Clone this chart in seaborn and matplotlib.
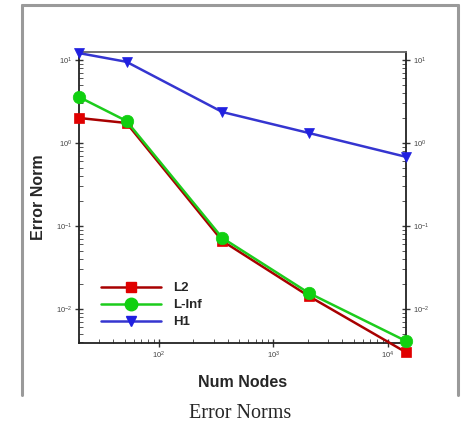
import matplotlib
matplotlib.use("Agg")
import matplotlib.pyplot as plt
import matplotlib.ticker as mticker
from matplotlib.lines import Line2D
import numpy as np
import pandas as pd
import seaborn as sns

# Mesh sizes and error norms for the convergence study
num_nodes = [20, 52, 357, 2030, 14400]
err_l2 = [2.0, 1.74, 0.066, 0.0143, 0.0030]
err_linf = [3.58, 1.84, 0.0717, 0.0156, 0.0041]
err_h1 = [12.1, 9.5, 2.36, 1.32, 0.68]
series_names = ["L2", "L-Inf", "H1"]
x_ticks = [1e2, 1e3, 1e4]
y_ticks = [1e-2, 1e-1, 1e0, 1e1]

df = pd.DataFrame({
    "Num Nodes": num_nodes * 3,
    "Error Norm": err_l2 + err_linf + err_h1,
    "Norm": [n for n in series_names for _ in num_nodes],
})

sns.set_style("white")
plt.rcParams["font.family"] = ["Liberation Sans", "DejaVu Sans"]

fig = plt.figure(figsize=(4.62, 4.29), dpi=100)
ax = fig.add_axes([0.171, 0.2005, 0.708, 0.6783])

styles = {
    "L2": dict(line="#a80000", face="#e00000", marker="s", ms=7),
    "L-Inf": dict(line="#1ccc1c", face="#10d010", marker="o", ms=9),
    "H1": dict(line="#3535d0", face="#2020e0", marker="v", ms=7.5),
}

for name in series_names:
    st = styles[name]
    sub = df[df["Norm"] == name]
    sns.lineplot(data=sub, x="Num Nodes", y="Error Norm", ax=ax,
                 color=st["line"], linewidth=1.8, marker=st["marker"],
                 markersize=st["ms"], markerfacecolor=st["face"],
                 markeredgecolor=st["face"], markeredgewidth=0.5,
                 label=name, clip_on=False, zorder=3, legend=False)

ax.set_xscale("log")
ax.set_yscale("log")
ax.set_xlim(num_nodes[0], num_nodes[-1])
ax.set_ylim(10 ** -2.41, 10 ** 1.096)

ax.xaxis.set_major_locator(mticker.FixedLocator(x_ticks))
ax.yaxis.set_major_locator(mticker.FixedLocator(y_ticks))
ax.xaxis.set_minor_locator(mticker.LogLocator(base=10, subs=np.arange(2, 10)))
ax.yaxis.set_minor_locator(mticker.LogLocator(base=10, subs=np.arange(2, 10)))
ax.xaxis.set_major_formatter(mticker.LogFormatterSciNotation())
ax.yaxis.set_major_formatter(mticker.LogFormatterSciNotation())

ax.tick_params(which="major", direction="inout", length=6, width=1,
               labelsize=5.5, labelcolor="#444444", color="#333333",
               left=True, right=True, bottom=True, top=False,
               labelleft=True, labelright=True, pad=2)
ax.tick_params(which="minor", direction="in", length=3, width=0.7,
               color="#555555", left=True, right=True, bottom=True, top=False)

for side in ["left", "right", "bottom"]:
    ax.spines[side].set_color("#222222")
    ax.spines[side].set_linewidth(1.3)
ax.spines["top"].set_color("#666666")
ax.spines["top"].set_linewidth(1.3)

ax.set_xlabel("Num Nodes", fontsize=11.5, fontweight="bold", labelpad=10)
ax.set_ylabel("Error Norm", fontsize=11.5, fontweight="bold", labelpad=7)

handles = []
for name in series_names:
    st = styles[name]
    handles.append(Line2D([], [], color=st["line"], linewidth=1.8,
                          marker=st["marker"], markersize=st["ms"],
                          markerfacecolor=st["face"], markeredgecolor=st["face"]))
leg = ax.legend(handles, series_names, loc="lower left",
                bbox_to_anchor=(0.03, 0.01), frameon=False,
                handlelength=4.6, handletextpad=0.9, labelspacing=0.35,
                prop=dict(weight="bold", size=9.5))

# Surrounding panel frame, open at the bottom
frame_kw = dict(color="#9a9a9a", linewidth=2.2, transform=fig.transFigure)
fig.add_artist(Line2D([22 / 462, 22 / 462], [1 - 395 / 429, 1 - 5 / 429], **frame_kw))
fig.add_artist(Line2D([22 / 462, 458 / 462], [1 - 5 / 429, 1 - 5 / 429], **frame_kw))
fig.add_artist(Line2D([458 / 462, 458 / 462], [1 - 395 / 429, 1 - 5 / 429], **frame_kw))

fig.text(240 / 462, 1 - 413 / 429, "Error Norms", ha="center", va="center",
         family=["Liberation Serif", "DejaVu Serif"], fontsize=14.5)

fig.savefig("out.png", dpi=100)
